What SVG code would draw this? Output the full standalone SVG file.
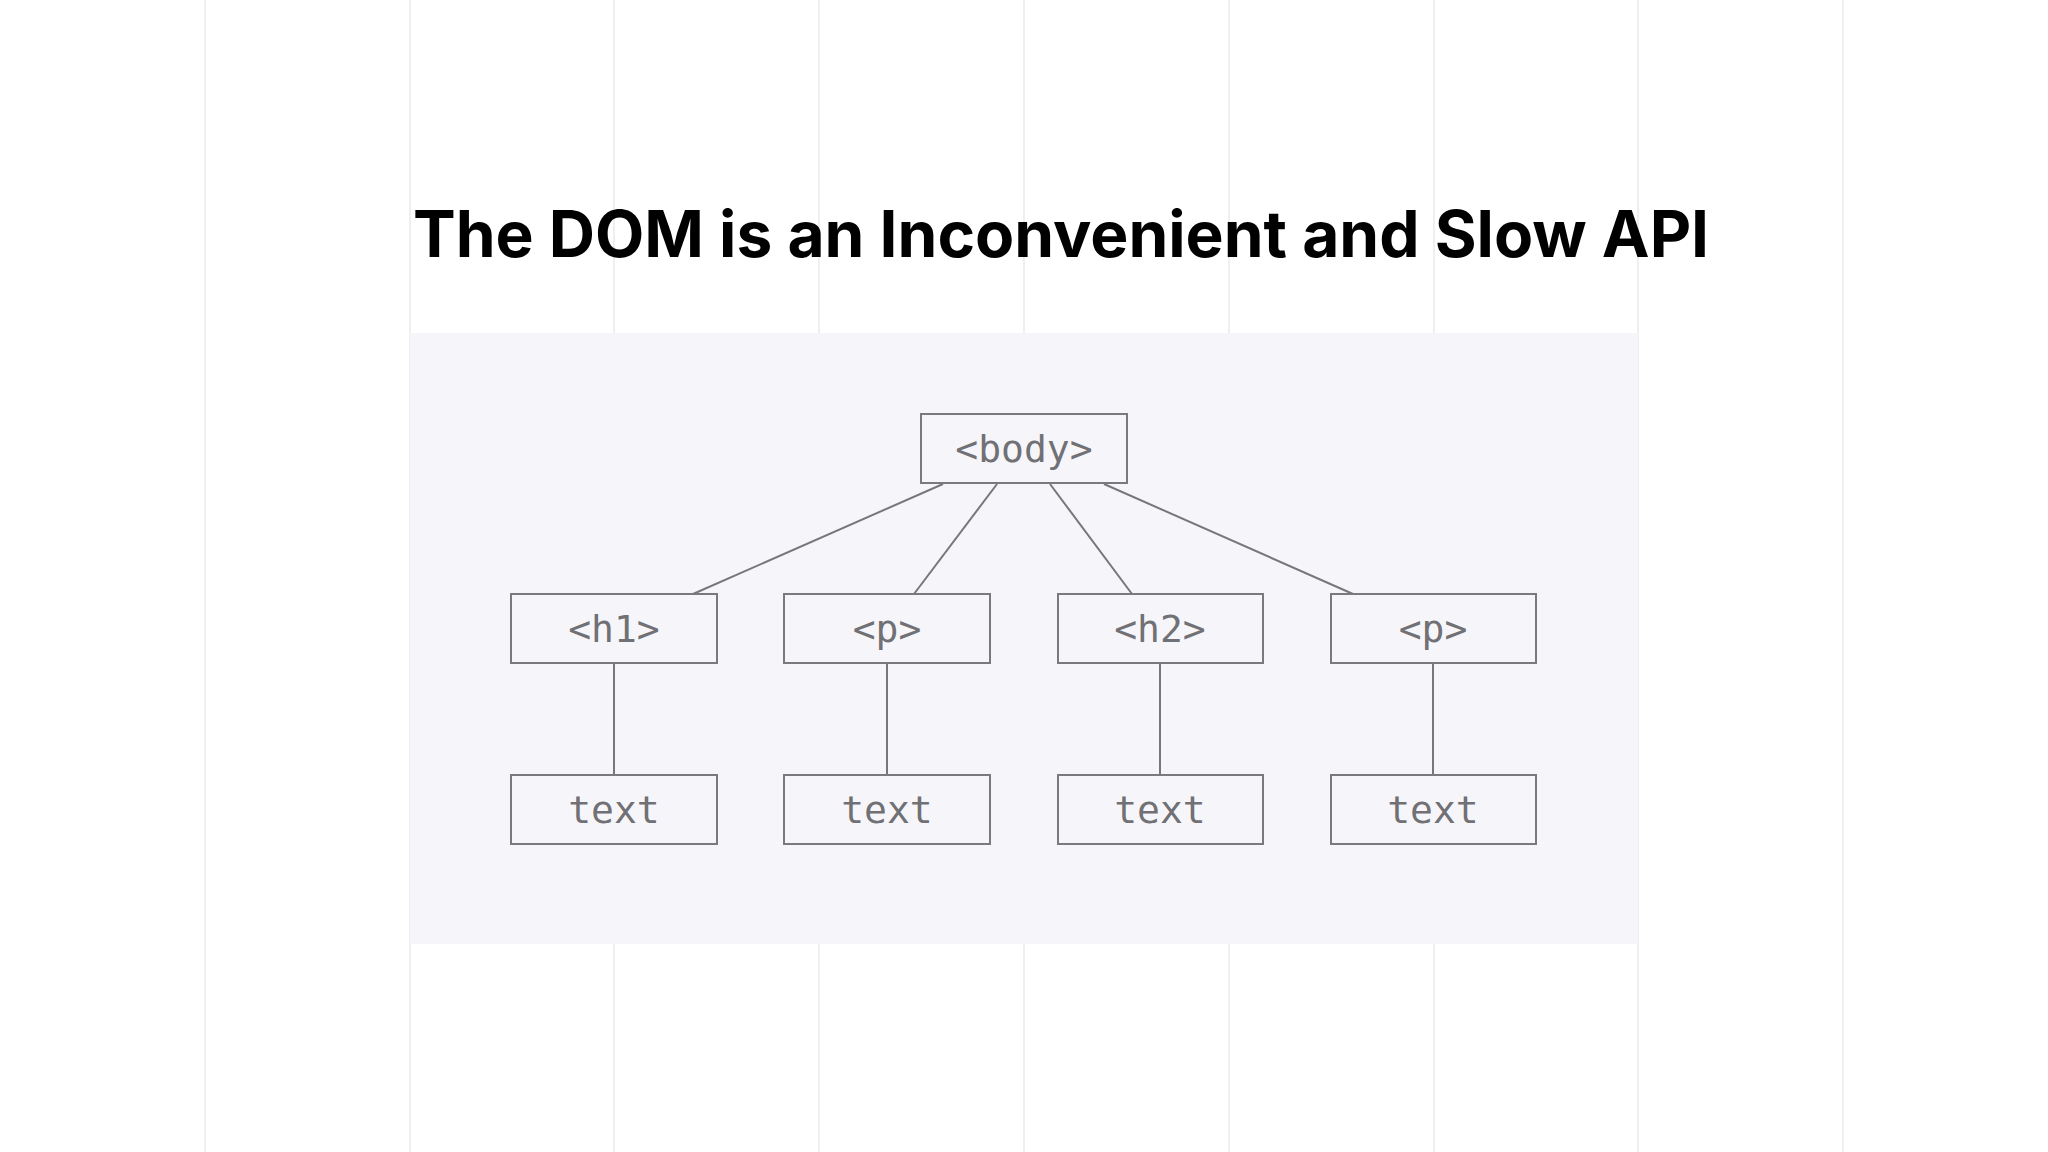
<svg xmlns="http://www.w3.org/2000/svg" width="2048" height="1152" viewBox="0 0 2048 1152">
<style>
.grid{stroke:#efeff2;stroke-width:2}
.box{fill:none;stroke:#7a7a7e;stroke-width:2}
.lbl{font-family:"DejaVu Sans Mono","Liberation Mono",monospace;font-size:38px;fill:#707075;text-anchor:middle}
.con line{stroke:#77777b;stroke-width:2}
</style>
<rect width="2048" height="1152" fill="#ffffff"/>
<g id="grid">
<line class="grid" x1="205" y1="0" x2="205" y2="1152"/>
<line class="grid" x1="410" y1="0" x2="410" y2="1152"/>
<line class="grid" x1="614" y1="0" x2="614" y2="1152"/>
<line class="grid" x1="819" y1="0" x2="819" y2="1152"/>
<line class="grid" x1="1024" y1="0" x2="1024" y2="1152"/>
<line class="grid" x1="1229" y1="0" x2="1229" y2="1152"/>
<line class="grid" x1="1434" y1="0" x2="1434" y2="1152"/>
<line class="grid" x1="1638" y1="0" x2="1638" y2="1152"/>
<line class="grid" x1="1843" y1="0" x2="1843" y2="1152"/>
</g>
<rect x="410" y="333" width="1228" height="611" fill="#f6f6fa"/>
<text x="1061" y="257" font-family="Inter, 'Liberation Sans', sans-serif" font-weight="700" font-size="64" text-anchor="middle" fill="#000">The DOM is an Inconvenient and Slow API</text>
<g class="con" id="connectors">
<line x1="943" y1="484" x2="693" y2="594"/>
<line x1="997" y1="484" x2="914" y2="594"/>
<line x1="1050" y1="484" x2="1132" y2="594"/>
<line x1="1104" y1="484" x2="1353" y2="594"/>
<line x1="614" y1="663" x2="614" y2="774"/>
<line x1="887" y1="663" x2="887" y2="774"/>
<line x1="1160" y1="663" x2="1160" y2="774"/>
<line x1="1433" y1="663" x2="1433" y2="774"/>
</g>
<g id="body"><rect class="box" x="921" y="414" width="206" height="69"/><text class="lbl" x="1024" y="462">&lt;body&gt;</text></g>
<g id="h1"><rect class="box" x="511" y="594" width="206" height="69"/><text class="lbl" x="614" y="642">&lt;h1&gt;</text></g>
<g id="p1"><rect class="box" x="784" y="594" width="206" height="69"/><text class="lbl" x="887" y="642">&lt;p&gt;</text></g>
<g id="h2"><rect class="box" x="1058" y="594" width="205" height="69"/><text class="lbl" x="1160" y="642">&lt;h2&gt;</text></g>
<g id="p2"><rect class="box" x="1331" y="594" width="205" height="69"/><text class="lbl" x="1433" y="642">&lt;p&gt;</text></g>
<g id="t1"><rect class="box" x="511" y="775" width="206" height="69"/><text class="lbl" x="614" y="823">text</text></g>
<g id="t2"><rect class="box" x="784" y="775" width="206" height="69"/><text class="lbl" x="887" y="823">text</text></g>
<g id="t3"><rect class="box" x="1058" y="775" width="205" height="69"/><text class="lbl" x="1160" y="823">text</text></g>
<g id="t4"><rect class="box" x="1331" y="775" width="205" height="69"/><text class="lbl" x="1433" y="823">text</text></g>
</svg>
